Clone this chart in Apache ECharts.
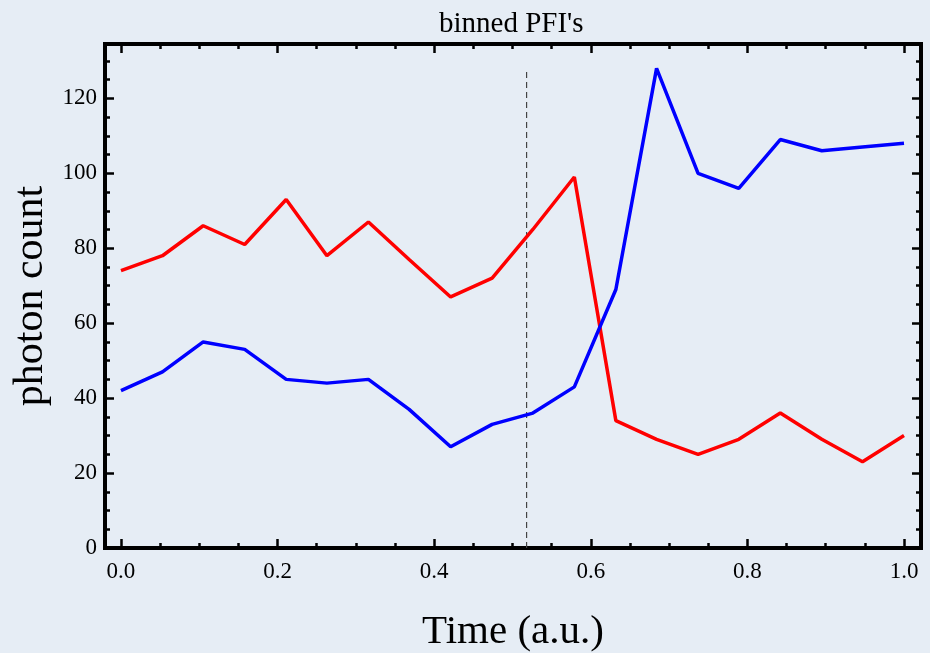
<!DOCTYPE html>
<html>
<head>
<meta charset="utf-8">
<script src="https://cdn.jsdelivr.net/npm/echarts@6/dist/echarts.min.js"></script>
<style>
  html, body { margin: 0; padding: 0; background: #e6edf5; }
  #main { width: 930px; height: 653px; }
</style>
</head>
<body>
<div id="main"></div>
<script>
// bin centres (a.u.)
var times = [0, 0.053, 0.105, 0.158, 0.211, 0.263, 0.316, 0.368, 0.421, 0.474,
             0.526, 0.579, 0.632, 0.684, 0.737, 0.789, 0.842, 0.895, 0.947, 1.0];
var redCounts = [74, 78, 86, 81, 93, 78, 87, 77, 67, 72,
                 85, 99, 34, 29, 25, 29, 36, 29, 23, 30];
var blueCounts = [42, 47, 55, 53, 45, 44, 45, 37, 27, 33,
                  36, 43, 69, 128, 100, 96, 109, 106, 107, 108];

// dashed marker
var markerTime = 0.518;
var markerTop = 127;

// ticks
var xMajor = [0, 0.2, 0.4, 0.6, 0.8, 1.0];
var xMinor = [0.05, 0.1, 0.15, 0.25, 0.3, 0.35, 0.45, 0.5, 0.55,
              0.65, 0.7, 0.75, 0.85, 0.9, 0.95];
var yMajor = [0, 20, 40, 60, 80, 100, 120];
var yMinor = [5, 10, 15, 25, 30, 35, 45, 50, 55, 65, 70, 75,
              85, 90, 95, 105, 110, 115, 125, 130];

var FONT = '"Liberation Serif", "DejaVu Serif", serif';
var xMin = -0.0204, xMax = 1.0217;
var yMin = 0, yMax = 134.5;

function pairs(xs, ys) {
  return xs.map(function (x, i) { return [x, ys[i]]; });
}

function xAx(pos, ticks, len, labels) {
  return {
    type: 'value', position: pos, min: xMin, max: xMax,
    axisLine: { show: false, onZero: false },
    splitLine: { show: false },
    axisTick: { inside: true, length: len, customValues: ticks,
                lineStyle: { color: '#000', width: 2.5 } },
    axisLabel: labels ? {
      customValues: ticks, margin: 12, color: '#000',
      fontFamily: FONT, fontSize: 23,
      formatter: function (v) { return v.toFixed(1); }
    } : { show: false }
  };
}

function yAx(pos, ticks, len, labels) {
  return {
    type: 'value', position: pos, min: yMin, max: yMax,
    axisLine: { show: false, onZero: false },
    splitLine: { show: false },
    axisTick: { inside: true, length: len, customValues: ticks,
                lineStyle: { color: '#000', width: 2.5 } },
    axisLabel: labels ? {
      customValues: ticks, margin: 8, color: '#000',
      fontFamily: FONT, fontSize: 23
    } : { show: false }
  };
}

var xAxes = [
  xAx('bottom', xMajor, 9, true),
  xAx('bottom', xMinor, 5, false),
  xAx('top', xMajor, 9, false),
  xAx('top', xMinor, 5, false)
];
xAxes[0].name = 'Time (a.u.)';
xAxes[0].nameLocation = 'middle';
xAxes[0].nameGap = 64;
xAxes[0].nameTextStyle = { fontFamily: FONT, fontSize: 41, color: '#000' };

var yAxes = [
  yAx('left', yMajor, 9, true),
  yAx('left', yMinor, 5, false),
  yAx('right', yMajor, 9, false),
  yAx('right', yMinor, 5, false)
];
yAxes[0].name = 'photon count';
yAxes[0].nameLocation = 'middle';
yAxes[0].nameGap = 50;
yAxes[0].nameTextStyle = { fontFamily: FONT, fontSize: 42, color: '#000' };

var option = {
  backgroundColor: '#e6edf5',
  animation: false,
  title: {
    text: "binned PFI's",
    left: 434,
    top: 5,
    textStyle: { fontFamily: FONT, fontSize: 29, fontWeight: 'normal', color: '#000' }
  },
  grid: {
    left: 105, right: 9, top: 44, bottom: 105,
    outerBoundsMode: 'none',
    containLabel: false,
    show: true, borderWidth: 4, borderColor: '#000', backgroundColor: 'transparent'
  },
  xAxis: xAxes,
  yAxis: yAxes,
  series: [
    {
      type: 'line',
      data: [[markerTime, 0], [markerTime, markerTop]],
      symbol: 'none',
      lineStyle: { color: '#444', width: 1.2, type: [6, 4] },
      z: 1,
      silent: true
    },
    {
      type: 'line',
      data: pairs(times, redCounts),
      symbol: 'none',
      lineStyle: { color: '#ff0000', width: 3.5 },
      z: 3
    },
    {
      type: 'line',
      data: pairs(times, blueCounts),
      symbol: 'none',
      lineStyle: { color: '#0000ff', width: 3.5 },
      z: 4
    }
  ]
};

var myChart = echarts.init(document.getElementById('main'));
myChart.setOption(option);
</script>
</body>
</html>
